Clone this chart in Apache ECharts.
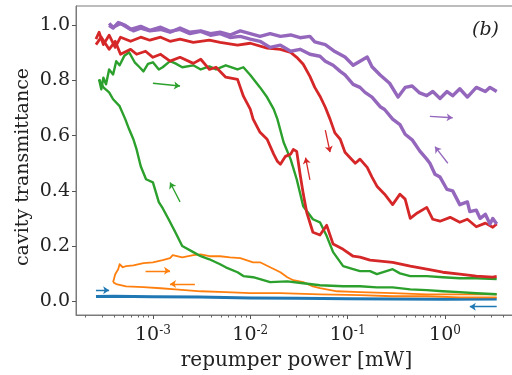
<!DOCTYPE html>
<html>
<head>
<meta charset="utf-8">
<script src="https://cdn.jsdelivr.net/npm/echarts@6/dist/echarts.min.js"></script>
<style>
  html, body { margin: 0; padding: 0; background: #fff; }
  #chart { width: 512px; height: 375px; }
</style>
</head>
<body>
<div id="chart"></div>
<script>
// repumper power in mW, cavity transmittance
const purpleUp = [
  [3.55e-4, 1.0], [3.9e-4, 0.99], [4.4e-4, 1.01], [5.2e-4, 1.0], [6.3e-4, 0.98], [7.5e-4, 0.99],
  [9.3e-4, 0.98], [1.2e-3, 0.985], [1.5e-3, 0.975], [1.9e-3, 0.99], [2.4e-3, 0.975], [3.1e-3, 0.98],
  [3.9e-3, 0.97], [4.9e-3, 0.975], [6.2e-3, 0.965], [7.9e-3, 0.98], [0.01, 0.97], [0.0126, 0.96],
  [0.016, 0.97], [0.0204, 0.96], [0.026, 0.965], [0.0325, 0.955], [0.041, 0.96], [0.046, 0.94],
  [0.059, 0.93], [0.074, 0.905], [0.094, 0.885], [0.114, 0.855], [0.134, 0.87], [0.159, 0.885],
  [0.178, 0.85], [0.216, 0.82], [0.27, 0.79], [0.33, 0.74], [0.39, 0.775], [0.46, 0.78],
  [0.55, 0.755], [0.65, 0.745], [0.75, 0.76], [0.89, 0.735], [1.05, 0.76], [1.2, 0.745],
  [1.42, 0.77], [1.7, 0.74], [2.1, 0.775], [2.6, 0.76], [2.9, 0.775], [3.4, 0.76]
];
const purpleDown = [
  [3.4, 0.28], [3.1, 0.30], [2.9, 0.28], [2.6, 0.315], [2.3, 0.30], [2.1, 0.33], [1.8, 0.325],
  [1.7, 0.36], [1.42, 0.35], [1.2, 0.40], [1.05, 0.405], [0.89, 0.45], [0.79, 0.46], [0.70, 0.50],
  [0.65, 0.515], [0.55, 0.545], [0.46, 0.585], [0.39, 0.605], [0.345, 0.64], [0.29, 0.66],
  [0.24, 0.695], [0.216, 0.705], [0.178, 0.74], [0.151, 0.757], [0.134, 0.775], [0.114, 0.786],
  [0.094, 0.82], [0.084, 0.833], [0.071, 0.855], [0.059, 0.87], [0.052, 0.888], [0.041, 0.895],
  [0.0325, 0.913], [0.026, 0.906], [0.0204, 0.928], [0.016, 0.92], [0.0126, 0.942], [0.01, 0.95],
  [7.9e-3, 0.96], [6.2e-3, 0.956], [4.9e-3, 0.97], [3.9e-3, 0.964], [3.1e-3, 0.978], [2.4e-3, 0.97],
  [1.9e-3, 0.985], [1.5e-3, 0.978], [1.2e-3, 0.993], [9.3e-4, 0.982], [7.5e-4, 0.996],
  [5.9e-4, 0.985], [4.65e-4, 1.007], [3.9e-4, 0.993], [3.55e-4, 1.007]
];
const redUp = [
  [2.6e-4, 0.95], [2.8e-4, 0.975], [3.1e-4, 0.93], [3.55e-4, 0.964], [4.1e-4, 0.92], [4.65e-4, 0.957],
  [5.9e-4, 0.942], [7.5e-4, 0.957], [9.3e-4, 0.946], [1.2e-3, 0.957], [1.5e-3, 0.942], [1.9e-3, 0.95],
  [2.6e-3, 0.938], [3.8e-3, 0.946], [4.9e-3, 0.938], [7.4e-3, 0.928], [0.01, 0.935], [0.0149, 0.917],
  [0.0204, 0.913], [0.026, 0.902], [0.030, 0.884], [0.035, 0.859], [0.041, 0.815], [0.046, 0.775],
  [0.052, 0.743], [0.059, 0.703], [0.066, 0.66], [0.074, 0.61], [0.084, 0.587], [0.094, 0.54],
  [0.106, 0.52], [0.12, 0.50], [0.134, 0.515], [0.159, 0.485], [0.178, 0.45], [0.20, 0.417],
  [0.24, 0.388], [0.29, 0.35], [0.345, 0.388], [0.39, 0.37], [0.44, 0.30], [0.52, 0.32],
  [0.65, 0.34], [0.75, 0.297], [0.89, 0.29], [1.13, 0.304], [1.42, 0.286], [1.7, 0.297],
  [2.1, 0.27], [2.6, 0.283], [3.1, 0.268], [3.4, 0.28]
];
const redLow = [
  [2.6e-4, 0.93], [2.95e-4, 0.957], [3.55e-4, 0.913], [4.1e-4, 0.942], [4.65e-4, 0.895], [5.9e-4, 0.913],
  [6.8e-4, 0.895], [8.4e-4, 0.906], [1.0e-3, 0.884], [1.2e-3, 0.895], [1.5e-3, 0.87], [1.9e-3, 0.884],
  [2.6e-3, 0.862], [3.1e-3, 0.877], [3.8e-3, 0.84], [4.45e-3, 0.848], [5.6e-3, 0.812], [7.4e-3, 0.804],
  [8.5e-3, 0.743], [0.01, 0.696], [0.0107, 0.66], [0.0126, 0.612], [0.0149, 0.587], [0.0174, 0.533],
  [0.019, 0.507], [0.0204, 0.496], [0.023, 0.525], [0.026, 0.533], [0.0277, 0.55], [0.030, 0.543],
  [0.0325, 0.46], [0.035, 0.39], [0.038, 0.322], [0.044, 0.25], [0.052, 0.24], [0.061, 0.275],
  [0.071, 0.207], [0.090, 0.188], [0.114, 0.163], [0.134, 0.16], [0.17, 0.149], [0.216, 0.145],
  [0.29, 0.141], [0.44, 0.127], [0.65, 0.116], [0.95, 0.105], [1.42, 0.098], [2.1, 0.091],
  [3.1, 0.087], [3.4, 0.09]
];
const greenUp = [
  [2.8e-4, 0.804], [2.95e-4, 0.768], [3.1e-4, 0.81], [3.3e-4, 0.786], [3.55e-4, 0.84], [3.9e-4, 0.822],
  [4.2e-4, 0.87], [4.55e-4, 0.855], [5.1e-4, 0.89], [5.7e-4, 0.902], [6.5e-4, 0.866], [7.3e-4, 0.848],
  [8.0e-4, 0.833], [8.9e-4, 0.86], [1.0e-3, 0.866], [1.15e-3, 0.84], [1.26e-3, 0.848], [1.5e-3, 0.87],
  [1.7e-3, 0.862], [2.0e-3, 0.848], [2.6e-3, 0.855], [3.1e-3, 0.84], [3.8e-3, 0.851], [4.45e-3, 0.84],
  [5.6e-3, 0.855], [7.4e-3, 0.84], [8.5e-3, 0.848], [0.01, 0.82], [0.0126, 0.775], [0.0149, 0.739],
  [0.0174, 0.696], [0.019, 0.66], [0.022, 0.576], [0.026, 0.514], [0.030, 0.442], [0.035, 0.344],
  [0.044, 0.297], [0.052, 0.286], [0.061, 0.236], [0.071, 0.178], [0.090, 0.127], [0.114, 0.116],
  [0.134, 0.109], [0.17, 0.109], [0.20, 0.098], [0.29, 0.116], [0.345, 0.101], [0.44, 0.091],
  [0.65, 0.091], [0.95, 0.087], [1.42, 0.083], [2.1, 0.083], [3.4, 0.08]
];
const greenDown = [
  [3.4, 0.025], [2.1, 0.029], [1.42, 0.033], [0.95, 0.036], [0.65, 0.04], [0.44, 0.043], [0.29, 0.05],
  [0.20, 0.05], [0.134, 0.054], [0.090, 0.054], [0.052, 0.058], [0.035, 0.065], [0.024, 0.072],
  [0.016, 0.069], [0.0126, 0.08], [0.0107, 0.087], [8.5e-3, 0.091], [7.4e-3, 0.105], [5.6e-3, 0.123],
  [4.9e-3, 0.134], [3.8e-3, 0.152], [3.1e-3, 0.163], [2.6e-3, 0.178], [2.0e-3, 0.20], [1.7e-3, 0.25],
  [1.45e-3, 0.297], [1.26e-3, 0.337], [1.15e-3, 0.359], [1.0e-3, 0.431], [8.5e-4, 0.442],
  [7.5e-4, 0.489], [6.8e-4, 0.55], [6.3e-4, 0.587], [5.7e-4, 0.623], [5.2e-4, 0.66], [4.55e-4, 0.707],
  [3.9e-4, 0.732], [3.55e-4, 0.757], [3.1e-4, 0.775], [2.8e-4, 0.804]
];
const orangeUp = [
  [3.9e-4, 0.069], [4.1e-4, 0.098], [4.4e-4, 0.116], [4.55e-4, 0.134], [4.9e-4, 0.123], [5.3e-4, 0.127],
  [6.3e-4, 0.13], [8.0e-4, 0.138], [1.0e-3, 0.141], [1.26e-3, 0.149], [1.5e-3, 0.156], [1.6e-3, 0.167],
  [2.0e-3, 0.159], [2.6e-3, 0.167], [3.1e-3, 0.17], [3.8e-3, 0.163], [4.9e-3, 0.163], [6.2e-3, 0.159],
  [7.9e-3, 0.156], [0.0107, 0.141], [0.0126, 0.141], [0.016, 0.123], [0.0204, 0.105], [0.024, 0.087],
  [0.0277, 0.076], [0.035, 0.069], [0.044, 0.054], [0.052, 0.047], [0.078, 0.036], [0.134, 0.033],
  [0.29, 0.029], [0.65, 0.025], [1.42, 0.025], [3.4, 0.025]
];
const orangeDown = [
  [3.4, 0.014], [1.42, 0.014], [0.65, 0.018], [0.29, 0.018], [0.134, 0.022], [0.052, 0.025],
  [0.0204, 0.029], [0.01, 0.029], [5.6e-3, 0.033], [3.1e-3, 0.036], [1.7e-3, 0.043], [1.2e-3, 0.047],
  [8.0e-4, 0.051], [5.3e-4, 0.054], [4.2e-4, 0.062], [3.9e-4, 0.069]
];
const blueLine = [
  [2.6e-4, 0.017], [4e-4, 0.018], [1e-3, 0.016], [3e-3, 0.015], [0.01, 0.012], [0.03, 0.011],
  [0.1, 0.009], [0.3, 0.008], [1, 0.007], [3.4, 0.008]
];
// sweep direction arrows: [from, to]
const arrowsGreen = [[[1.0e-3, 0.79], [1.9e-3, 0.78]], [[1.9e-3, 0.36], [1.5e-3, 0.43]]];
const arrowsRed = [[[0.059, 0.62], [0.066, 0.54]], [[0.041, 0.44], [0.037, 0.52]]];
const arrowsPurple = [[[0.70, 0.67], [1.2, 0.665]], [[1.07, 0.50], [0.79, 0.56]]];
const arrowsOrange = [[[8.4e-4, 0.11], [1.5e-3, 0.11]], [[2.7e-3, 0.062], [1.5e-3, 0.062]]];
const arrowsBlue = [[[2.6e-4, 0.04], [3.55e-4, 0.04]], [[3.4, -0.02], [1.8, -0.02]]];

const yTicks = [0, 0.2, 0.4, 0.6, 0.8, 1.0];
const xDecades = [-3, -2, -1, 0];
const xMin = -3.79, xMax = 0.74;

const colors = { blue: '#1f77b4', orange: '#ff7f0e', green: '#2ca02c', red: '#d62728', purple: '#9467bd' };
const serif = 'DejaVu Serif';

const minorTicks = [];
for (let d = -4; d <= 0; d++) {
  for (let k = 2; k <= 9; k++) {
    const v = d + Math.log10(k);
    if (v > xMin && v < xMax) minorTicks.push(v);
  }
}

const toLog = (pts) => pts.map(([p, t]) => [Math.log10(p), t]);

function curve(pts, color, width) {
  return {
    type: 'line',
    data: toLog(pts),
    showSymbol: false,
    lineStyle: { color, width: width || 2, join: 'round' },
    itemStyle: { color },
    silent: true,
    z: 2,
  };
}

function arrows(list, color) {
  return {
    type: 'lines',
    coordinateSystem: 'cartesian2d',
    symbol: ['none', 'arrow'],
    symbolSize: 6,
    silent: true,
    z: 3,
    lineStyle: { color, width: 1.3, opacity: 1 },
    data: list.map(([a, b]) => ({ coords: [[Math.log10(a[0]), a[1]], [Math.log10(b[0]), b[1]]] })),
  };
}

const chart = echarts.init(document.getElementById('chart'));
chart.setOption({
  animation: false,
  backgroundColor: '#fff',
  grid: {
    left: 76, width: 441, top: 6, height: 309,
    outerBoundsMode: 'none', containLabel: false,
    show: true, borderColor: '#7a7a7a', borderWidth: 1,
  },
  xAxis: [
    {
      type: 'value',
      min: xMin,
      max: xMax,
      name: 'repumper power [mW]',
      nameLocation: 'middle',
      nameGap: 36,
      nameTextStyle: { fontFamily: serif, fontSize: 20, color: '#222' },
      axisLine: { show: true, onZero: false, lineStyle: { color: '#7a7a7a' } },
      axisTick: { show: true, customValues: xDecades, length: 4, lineStyle: { color: '#555' } },
      axisLabel: {
        customValues: xDecades,
        margin: 10,
        formatter: (v) => '{b|10}{s|' + String(Math.round(v)) + '}',
        rich: {
          b: { fontFamily: serif, fontSize: 19, color: '#222', lineHeight: 20 },
          s: { fontFamily: serif, fontSize: 12, color: '#222', verticalAlign: 'top', lineHeight: 20 },
        },
      },
      splitLine: { show: false },
    },
    {
      type: 'value',
      min: xMin,
      max: xMax,
      position: 'bottom',
      axisLine: { show: false, onZero: false },
      axisTick: { show: true, customValues: minorTicks, length: 2.5, lineStyle: { color: '#666' } },
      axisLabel: { show: false },
      splitLine: { show: false },
    },
  ],
  yAxis: {
    type: 'value',
    min: -0.05,
    max: 1.07,
    axisLine: { show: true, onZero: false, lineStyle: { color: '#7a7a7a' } },
    axisTick: { show: true, customValues: yTicks, length: 4, lineStyle: { color: '#555' } },
    axisLabel: {
      customValues: yTicks,
      margin: 6,
      fontFamily: serif,
      fontSize: 19,
      color: '#222',
      formatter: (v) => v.toFixed(1),
    },
    splitLine: { show: false },
  },
  graphic: [
    { type: 'text', left: 472, top: 21, style: { text: '(b)', font: 'italic 19px "DejaVu Serif"', fill: '#222' } },
    {
      type: 'text',
      x: 23,
      y: 167,
      rotation: Math.PI / 2,
      style: {
        text: 'cavity transmittance',
        font: '19px "DejaVu Serif"',
        fill: '#222',
        textAlign: 'center',
        textVerticalAlign: 'middle',
      },
    },
  ],
  series: [
    curve(blueLine, colors.blue, 3),
    curve(orangeDown, colors.orange, 1.8),
    curve(orangeUp, colors.orange, 1.8),
    curve(greenDown, colors.green, 2.4),
    curve(greenUp, colors.green, 2.4),
    curve(redLow, colors.red, 2.8),
    curve(redUp, colors.red, 2.8),
    curve(purpleDown, colors.purple, 3.4),
    curve(purpleUp, colors.purple, 3.4),
    arrows(arrowsBlue, colors.blue),
    arrows(arrowsOrange, colors.orange),
    arrows(arrowsGreen, colors.green),
    arrows(arrowsRed, colors.red),
    arrows(arrowsPurple, colors.purple),
  ],
});
</script>
</body>
</html>
